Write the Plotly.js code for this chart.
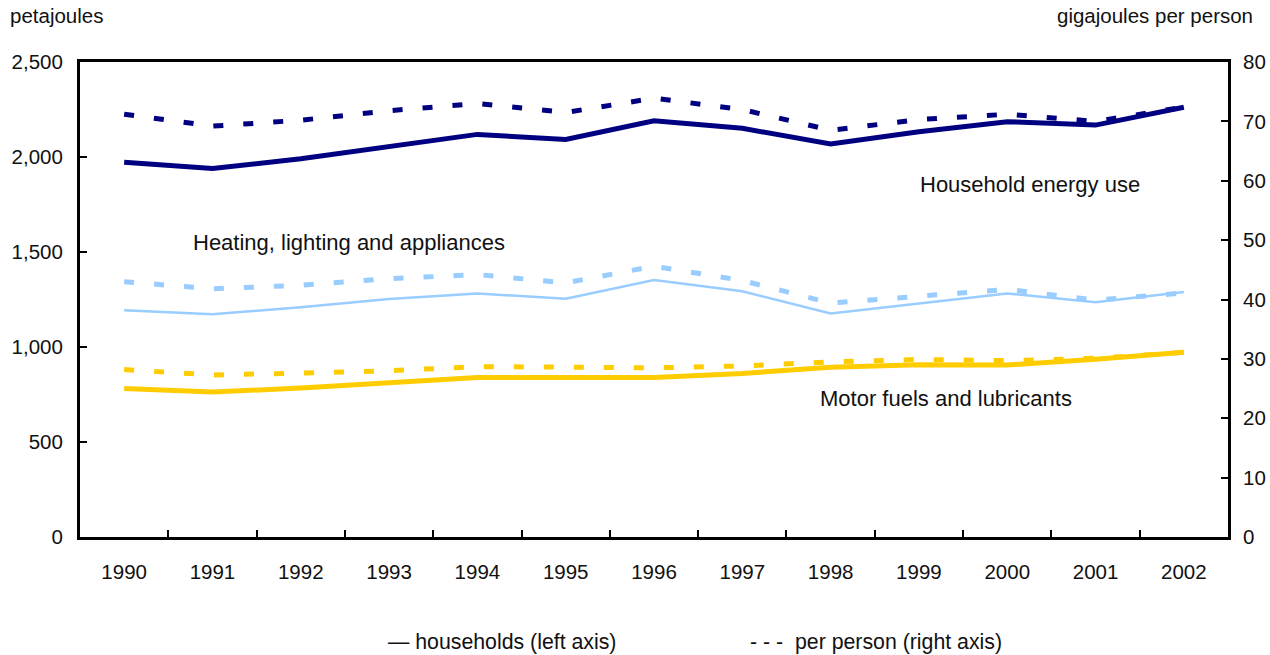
<!DOCTYPE html>
<html>
<head>
<meta charset="utf-8">
<script src="https://cdn.plot.ly/plotly-3.0.1.min.js"></script>
<style>html,body{margin:0;padding:0;background:#fff;}#chart{width:1270px;height:655px;}</style>
</head>
<body>
<div id="chart"></div>
<script>
const years = ["1990","1991","1992","1993","1994","1995","1996","1997","1998","1999","2000","2001","2002"];
// left axis: petajoules (households)
const householdTotal = [1972,1939,1991,2058,2119,2092,2191,2151,2068,2133,2186,2168,2262];
const heatingTotal   = [1193,1172,1209,1253,1282,1254,1353,1293,1177,1230,1282,1235,1289];
const motorTotal     = [781,763,784,809,840,840,840,861,893,907,905,935,972];
// right axis: gigajoules per person
const householdPerPerson = [71.2,69.2,70.2,71.8,73.0,71.5,73.9,72.0,68.5,70.3,71.2,70.0,72.4];
const heatingPerPerson   = [43.0,41.8,42.4,43.5,44.2,42.8,45.6,43.2,39.4,40.5,41.7,39.9,41.1];
const motorPerPerson     = [28.2,27.3,27.6,28.0,28.7,28.6,28.5,28.8,29.5,29.9,29.7,30.1,31.1];

const navy = "#000080", lightBlue = "#99ccff", gold = "#ffcc00";
const FONT = "Liberation Sans, Arial, Helvetica, sans-serif";
const FS = 20.5;
const FS_LABEL = 22;
const FS_LEGEND = 21.3;
const dashPat = "10px,20px";

function tr(y, color, width, dashed) {
  return {
    x: years, y: y, type: "scatter", mode: "lines",
    yaxis: dashed ? "y2" : "y",
    line: {color: color, width: width, dash: dashed ? dashPat : "solid"},
    showlegend: false, hoverinfo: "skip"
  };
}

const data = [
  tr(motorPerPerson, gold, 5, true),
  tr(heatingPerPerson, lightBlue, 5, true),
  tr(householdPerPerson, navy, 5, true),
  tr(motorTotal, gold, 5, false),
  tr(heatingTotal, lightBlue, 2.5, false),
  tr(householdTotal, navy, 5, false)
];

function ann(text, x, y, anchor, size) {
  return {text: text, xref: "paper", yref: "paper", x: x, y: y, xanchor: anchor, yanchor: "middle",
          showarrow: false, font: {family: FONT, size: size, color: "#111"}};
}

const layout = {
  width: 1270, height: 655,
  margin: {l: 80, r: 42, t: 62, b: 118},
  paper_bgcolor: "#fff", plot_bgcolor: "#fff",
  font: {family: FONT, size: FS, color: "#111"},
  showlegend: false,
  xaxis: {
    type: "category", range: [-0.5, 12.5],
    tickson: "boundaries", ticks: "inside", ticklen: 7, tickwidth: 2, tickcolor: "#000",
    showline: true, linewidth: 3, linecolor: "#000", mirror: true,
    showgrid: false, zeroline: false,
    ticklabelstandoff: 14,
    tickfont: {family: FONT, size: FS, color: "#111"}
  },
  yaxis: {
    range: [0, 2500], dtick: 500, tickformat: ",d",
    ticks: "inside", ticklen: 7, tickwidth: 2, tickcolor: "#000",
    showline: true, linewidth: 3, linecolor: "#000",
    showgrid: false, zeroline: false,
    ticklabelstandoff: 10,
    tickfont: {family: FONT, size: FS, color: "#111"}
  },
  yaxis2: {
    overlaying: "y", side: "right",
    range: [0, 80], dtick: 10,
    ticks: "inside", ticklen: 7, tickwidth: 2, tickcolor: "#000",
    showline: true, linewidth: 3, linecolor: "#000",
    showgrid: false, zeroline: false,
    ticklabelstandoff: 8,
    tickfont: {family: FONT, size: FS, color: "#111"}
  },
  annotations: [
    ann("petajoules", -0.0627, 1.097, "left", FS),
    ann("gigajoules per person", 1.0235, 1.097, "right", FS),
    ann("Household energy use", 0.8275, 0.743, "center", FS_LABEL),
    ann("Heating, lighting and appliances", 0.2339, 0.621, "center", FS_LABEL),
    ann("Motor fuels and lubricants", 0.7544, 0.291, "center", FS_LABEL),
    ann("— households (left axis)", 0.2666, -0.221, "left", FS_LEGEND),
    ann("- - -  per person (right axis)", 0.5819, -0.221, "left", FS_LEGEND)
  ]
};

Plotly.newPlot("chart", data, layout, {displayModeBar: false, staticPlot: true});
</script>
</body>
</html>
